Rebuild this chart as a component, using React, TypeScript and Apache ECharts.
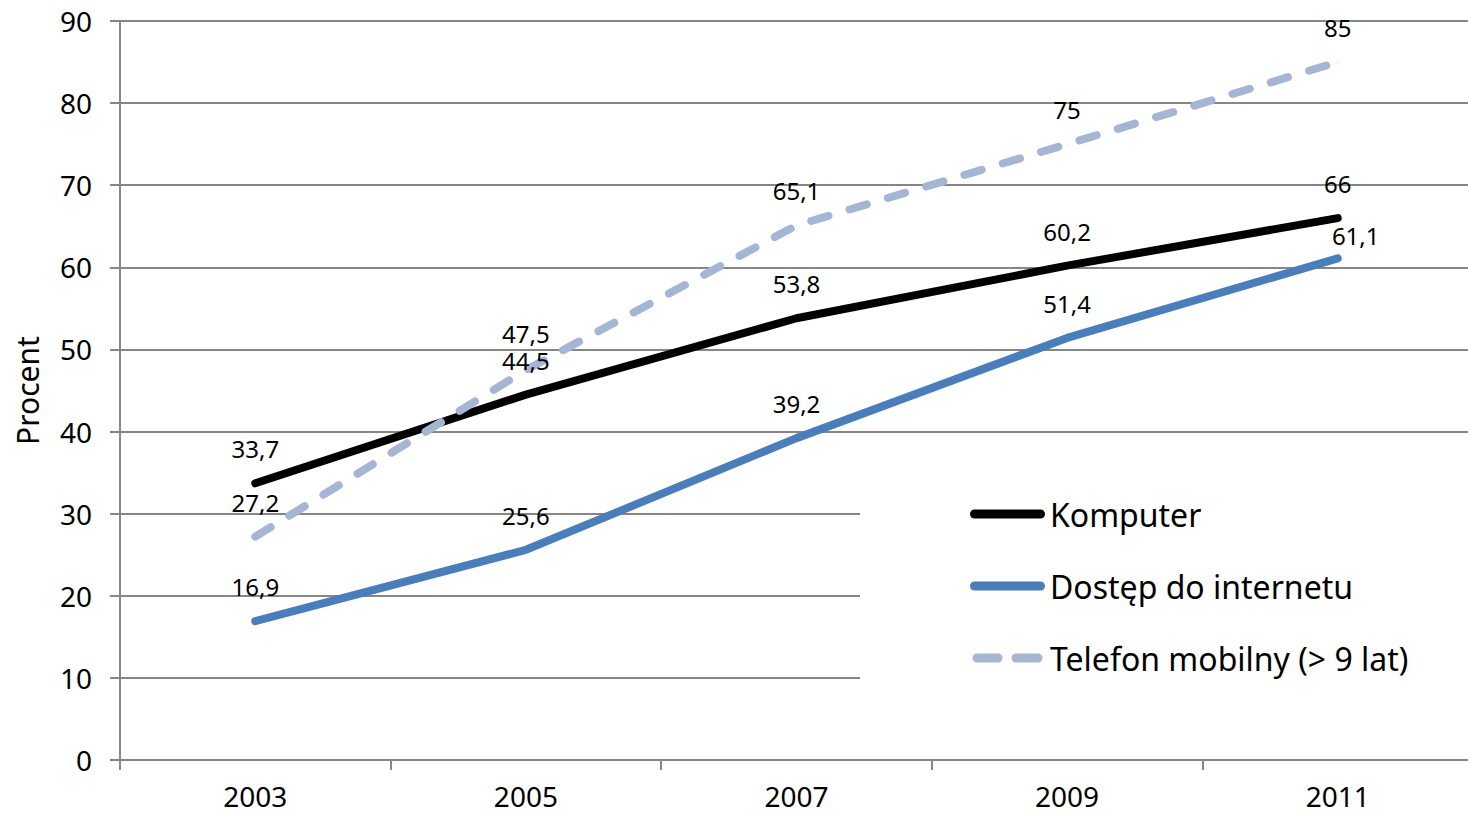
import React, { useEffect, useRef } from "react";
import * as echarts from "echarts";

const years = ["2003", "2005", "2007", "2009", "2011"];
const komputer = [33.7, 44.5, 53.8, 60.2, 66];
const internet = [16.9, 25.6, 39.2, 51.4, 61.1];
const telefon = [27.2, 47.5, 65.1, 75, 85];
const seriesNames = ["Komputer", "Dostęp do internetu", "Telefon mobilny (> 9 lat)"];

const FONT = "'Noto Sans', sans-serif";
const fmt = (v: number) => String(v).replace(".", ",");

const solidIcon = "path://M4.5,0H70.5A4.5,4.5,0,0,1,70.5,9H4.5A4.5,4.5,0,0,1,4.5,0Z";
const dashIcon =
  "path://M4.5,0H25.5A4.5,4.5,0,0,1,25.5,9H4.5A4.5,4.5,0,0,1,4.5,0Z M43.5,0H65.5A4.5,4.5,0,0,1,65.5,9H43.5A4.5,4.5,0,0,1,43.5,0Z";

export default function App() {
  const ref = useRef<HTMLDivElement>(null);
  useEffect(() => {
    document.body.style.margin = "0";
    if (!ref.current) return;
    const chart = echarts.init(ref.current, undefined, { renderer: "svg" });
    const labelBase = {
      show: true,
      position: "top" as const,
      distance: 23,
      color: "#000",
      fontSize: 24,
      lineHeight: 22,
      fontFamily: FONT,
      formatter: (p: any) => fmt(p.value),
    };
    const symbolCommon = {
      symbol: "circle",
      symbolSize: 1,
      showSymbol: true,
    };
    chart.setOption({
      animation: false,
      backgroundColor: "#fff",
      textStyle: { fontFamily: FONT },
      grid: {
        left: 120,
        top: 21,
        right: -5,
        bottom: 56,
        containLabel: false,
        outerBoundsMode: "none",
      },
      legend: {
        orient: "vertical",
        left: 860,
        top: 471,
        padding: [25, 120, 28, 110],
        backgroundColor: "#fff",
        itemWidth: 75,
        itemHeight: 9,
        itemGap: 36,
        textStyle: { fontSize: 32, lineHeight: 36, color: "#000", fontFamily: FONT },
        data: [
          { name: seriesNames[0], icon: solidIcon },
          { name: seriesNames[1], icon: solidIcon },
          { name: seriesNames[2], icon: dashIcon },
        ],
      },
      xAxis: {
        type: "category",
        data: years,
        boundaryGap: true,
        axisLine: { lineStyle: { color: "#868686", width: 2 } },
        axisTick: { show: true, length: 10, lineStyle: { color: "#868686", width: 2 } },
        axisLabel: { color: "#000", fontSize: 28, margin: 22, fontFamily: FONT },
        splitLine: { show: false },
      },
      yAxis: {
        type: "value",
        min: 0,
        max: 90,
        interval: 10,
        name: "Procent",
        nameLocation: "middle",
        nameGap: 78,
        nameRotate: 90,
        nameTextStyle: { fontSize: 30, color: "#000", fontFamily: FONT },
        axisLine: { show: true, lineStyle: { color: "#868686", width: 2 } },
        axisTick: { show: true, length: 10, lineStyle: { color: "#868686", width: 2 } },
        axisLabel: { color: "#000", fontSize: 28, margin: 28, fontFamily: FONT },
        splitLine: { show: true, lineStyle: { color: "#868686", width: 2 } },
      },
      series: [
        {
          name: seriesNames[0],
          type: "line",
          data: komputer,
          ...symbolCommon,
          lineStyle: { color: "#000", width: 8, cap: "round", join: "round" },
          itemStyle: { color: "#000" },
          label: labelBase,
        },
        {
          name: seriesNames[1],
          type: "line",
          ...symbolCommon,
          data: internet.map((v, i) =>
            i === internet.length - 1 ? { value: v, label: { offset: [18, 12] } } : v
          ),
          lineStyle: { color: "#4a7ebb", width: 8, cap: "round", join: "round" },
          itemStyle: { color: "#4a7ebb" },
          label: labelBase,
        },
        {
          name: seriesNames[2],
          type: "line",
          data: telefon.map((v, i) => (i === 1 ? { value: v, label: { offset: [0, -2] } } : v)),
          ...symbolCommon,
          lineStyle: { color: "#a5b6d4", width: 8, type: [18, 22], cap: "round", join: "round" },
          itemStyle: { color: "#a5b6d4" },
          label: labelBase,
        },
      ],
    });
    return () => chart.dispose();
  }, []);
  return <div ref={ref} style={{ width: 1468, height: 816 }} />;
}
